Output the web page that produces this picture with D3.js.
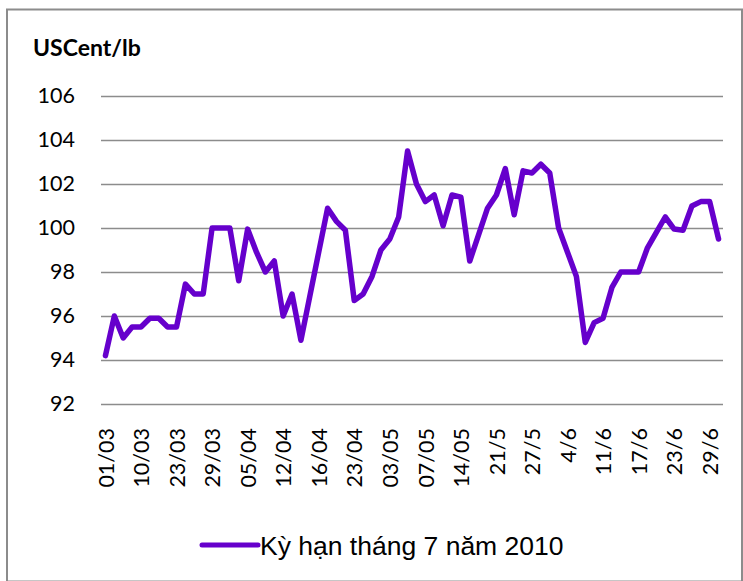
<!DOCTYPE html>
<html>
<head>
<meta charset="utf-8">
<script src="https://cdn.jsdelivr.net/npm/d3@7"></script>
<style>
    body { margin: 0; background: #fff; }
    svg { display: block; }
</style>
</head>
<body>
<div id="chart"></div>
<script>
// prices, USCent/lb - one value per trading session
var prices = [
    94.2, 96.0, 95.0, 95.5, 95.5, 95.9, 95.9, 95.5, 95.5, 97.45,
    97.0, 97.0, 100.0, 100.0, 100.0, 97.6, 99.95, 98.9, 98.0, 98.5,
    96.0, 97.0, 94.9, 96.9, 98.9, 100.9, 100.3, 99.9, 96.7, 97.0,
    97.8, 99.0, 99.5, 100.5, 103.5, 102.0, 101.2, 101.5, 100.1, 101.5,
    101.4, 98.5, 99.7, 100.9, 101.5, 102.7, 100.6, 102.6, 102.5, 102.9,
    102.5, 100.0, 98.9, 97.8, 94.8, 95.7, 95.9, 97.3, 98.0, 98.0,
    98.0, 99.1, 99.8, 100.5, 99.95, 99.9, 101.0, 101.2, 101.2, 99.5
];

// only every 4th session has a label on the axis
var tickLabels = ['01/03', '10/03', '23/03', '29/03', '05/04', '12/04', '16/04', '23/04', '03/05',
    '07/05', '14/05', '21/5', '27/5', '4/6', '11/6', '17/6', '23/6', '29/6'];
var labelStep = 4;

var yTicks = [92, 94, 96, 98, 100, 102, 104, 106];
var seriesName = 'Kỳ hạn tháng 7 năm 2010';
var unitLabel = 'USCent/lb';

var width = 743, height = 581;
var lineColor = '#6600cc';
var plot = {left: 101, right: 723, top: 96, bottom: 404};

var svg = d3.select('#chart').append('svg')
    .attr('width', width)
    .attr('height', height);

// outer frame
svg.append('rect')
    .attr('x', 7)
    .attr('y', 9.5)
    .attr('width', 735)
    .attr('height', 572)
    .attr('fill', '#fff')
    .attr('stroke', '#8c8c8c')
    .attr('stroke-width', 2);

var x = d3.scalePoint()
    .domain(d3.range(prices.length))
    .range([plot.left, plot.right])
    .padding(0.5);

var y = d3.scaleLinear()
    .domain([92, 106])
    .range([plot.bottom, plot.top]);

// y axis with gridlines
var yAxis = svg.append('g')
    .attr('transform', 'translate(' + plot.left + ',0)')
    .call(d3.axisLeft(y)
        .tickValues(yTicks)
        .tickSize(-(plot.right - plot.left))
        .tickPadding(26));

yAxis.select('.domain').remove();
yAxis.selectAll('.tick line')
    .attr('stroke', '#8c8c8c')
    .attr('stroke-width', 1.3);
yAxis.selectAll('.tick text')
    .style('font-family', 'Lato, sans-serif')
    .style('font-size', '21.5px')
    .attr('fill', '#000');

// x axis, rotated labels
var xAxis = svg.append('g')
    .attr('transform', 'translate(0,' + plot.bottom + ')')
    .call(d3.axisBottom(x)
        .tickValues(d3.range(0, prices.length, labelStep))
        .tickSize(0)
        .tickFormat(function(d) { return tickLabels[d / labelStep]; }));

xAxis.select('.domain').remove();
xAxis.selectAll('.tick text')
    .attr('transform', 'rotate(-90)')
    .attr('x', -24)
    .attr('y', 0)
    .attr('dy', '0.36em')
    .attr('text-anchor', 'end')
    .style('font-family', 'Lato, sans-serif')
    .style('font-size', '21.5px')
    .attr('fill', '#000');

// the series line
var line = d3.line()
    .x(function(d, i) { return x(i); })
    .y(function(d) { return y(d); });

svg.append('path')
    .datum(prices)
    .attr('d', line)
    .attr('fill', 'none')
    .attr('stroke', lineColor)
    .attr('stroke-width', 5.5)
    .attr('stroke-linejoin', 'round')
    .attr('stroke-linecap', 'round');

// unit label
svg.append('text')
    .attr('x', 33)
    .attr('y', 56)
    .style('font-family', 'Lato, sans-serif')
    .style('font-size', '23px')
    .style('font-weight', 'bold')
    .text(unitLabel);

// legend
var legend = svg.append('g')
    .attr('transform', 'translate(202,545)');

legend.append('line')
    .attr('x1', 0)
    .attr('x2', 56)
    .attr('stroke', lineColor)
    .attr('stroke-width', 5)
    .attr('stroke-linecap', 'round');

legend.append('text')
    .attr('x', 58)
    .attr('y', 10)
    .style('font-family', '"Liberation Sans", Arial, sans-serif')
    .style('font-size', '26.5px')
    .text(seriesName);
</script>
</body>
</html>
